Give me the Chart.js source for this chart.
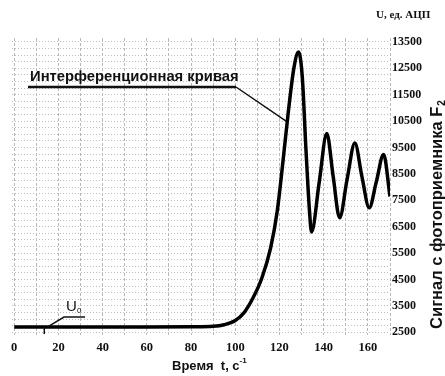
<!DOCTYPE html>
<html>
<head>
<meta charset="utf-8">
<script src="https://cdn.jsdelivr.net/npm/chart.js@4"></script>
<style>
  html, body { margin: 0; padding: 0; background: #fff; }
  #wrap { width: 445px; height: 376px; position: relative; }
</style>
</head>
<body>
<div id="wrap"><canvas id="signalChart"></canvas></div>
<script>
// Time, s
const times = [0, 20, 40, 60, 80, 90, 95, 100, 104, 108, 112, 116, 119, 122, 124, 126.5, 128.6, 130.3, 132, 133.5, 134.5,
  138, 141.4, 144.3, 147.2, 150.6, 154.1, 157.3, 160.6, 163.8, 167.1, 170];
// Photodetector F2 signal, ADC units
const signal = [2700, 2700, 2700, 2700, 2710, 2730, 2790, 2950, 3250, 3800, 4550, 5700, 7100, 9300, 10850, 12500, 13120, 12200, 9400, 7200, 6300,
  8200, 10030, 8400, 6840, 8300, 9670, 8400, 7220, 8200, 9240, 7650];

const xTickLabels = [0, 20, 40, 60, 80, 100, 120, 140, 160];
const yTickLabels = [2500, 3500, 4500, 5500, 6500, 7500, 8500, 9500, 10500, 11500, 12500, 13500];

const curveLabel = 'Интерференционная кривая';
const baseLabel = 'U';
const unitLabel = 'U, ед. АЦП';
const xTitle = 'Время  t, с';
const yTitle = 'Сигнал с фотоприемника F';

// Text and leader lines drawn on top of the chart
const labelsPlugin = {
  id: 'labels',
  afterDraw(chart) {
    const { ctx, scales: { x, y } } = chart;
    ctx.save();
    ctx.fillStyle = '#111';
    ctx.strokeStyle = '#111';
    ctx.textBaseline = 'middle';
    ctx.textAlign = 'left';

    // unit caption above the right axis
    ctx.font = 'bold 11px "Liberation Serif"';
    ctx.fillText(unitLabel, 376, 15);

    // x axis title with superscript
    ctx.font = 'bold 13px "Liberation Sans"';
    const xw = ctx.measureText(xTitle).width;
    ctx.fillText(xTitle, 172, 366);
    ctx.font = 'bold 8px "Liberation Sans"';
    ctx.fillText('-1', 172 + xw, 361);

    // right axis title, rotated, with subscript
    ctx.save();
    ctx.translate(437, 215);
    ctx.rotate(-Math.PI / 2);
    ctx.font = 'bold 16.5px "Liberation Sans"';
    const yw = ctx.measureText(yTitle).width;
    ctx.font = 'bold 10px "Liberation Sans"';
    const sw = ctx.measureText('2').width;
    const start = -(yw + sw) / 2;
    ctx.font = 'bold 16.5px "Liberation Sans"';
    ctx.fillText(yTitle, start, 0);
    ctx.font = 'bold 10px "Liberation Sans"';
    ctx.fillText('2', start + yw + 1, 5);
    ctx.restore();

    // curve annotation
    ctx.font = 'bold 14.8px "Liberation Sans"';
    ctx.fillText(curveLabel, 30, 77);
    const px = x.getPixelForValue(123), py = y.getPixelForValue(10500);
    ctx.lineWidth = 2.5;
    ctx.beginPath();
    ctx.moveTo(28, 87);
    ctx.lineTo(236, 87);
    ctx.stroke();
    ctx.lineWidth = 1.5;
    ctx.beginPath();
    ctx.moveTo(236, 87);
    ctx.lineTo(px, py);
    ctx.stroke();

    // U0 annotation
    const bx = x.getPixelForValue(13.6), by = y.getPixelForValue(2700);
    ctx.font = '15px "Liberation Sans"';
    ctx.fillText(baseLabel, 66, 307);
    ctx.font = '8px "Liberation Sans"';
    ctx.fillText('0', 77, 311);
    ctx.lineWidth = 1.5;
    ctx.beginPath();
    ctx.moveTo(85, 317);
    ctx.lineTo(64, 317);
    ctx.lineTo(bx + 3, by);
    ctx.stroke();
    ctx.beginPath();
    ctx.moveTo(bx, by);
    ctx.lineTo(bx, by + 7);
    ctx.stroke();
    ctx.restore();
  }
};

new Chart(document.getElementById('signalChart'), {
  type: 'line',
  data: {
    datasets: [{
      data: times.map((t, i) => ({ x: t, y: signal[i] })),
      borderColor: '#000',
      borderWidth: 3.5,
      pointRadius: 0,
      cubicInterpolationMode: 'monotone',
      fill: false
    }]
  },
  options: {
    responsive: true,
    maintainAspectRatio: false,
    animation: false,
    layout: { padding: { left: 12, top: 38, right: 0, bottom: 0 } },
    plugins: { legend: { display: false }, tooltip: { enabled: false } },
    scales: {
      x: {
        type: 'linear',
        min: -1,
        max: 170,
        border: { display: false, dash: [3, 2] },
        grid: { color: '#b8b8b8', lineWidth: 1, drawTicks: false },
        ticks: {
          stepSize: 10,
          includeBounds: false,
          autoSkip: false,
          maxRotation: 0,
          padding: 5,
          color: '#111',
          font: { family: 'Liberation Serif', weight: 'bold', size: 12.5 },
          callback: v => xTickLabels.includes(v) ? String(v) : ''
        },
        afterFit: s => { s.height = 41; }
      },
      y: {
        position: 'right',
        min: 2400,
        max: 13650,
        border: { display: false, dash: [1, 2] },
        grid: { color: '#bdbdbd', lineWidth: 1, drawTicks: false },
        ticks: {
          autoSkip: false,
          padding: 2,
          color: '#111',
          font: { family: 'Liberation Serif', weight: 'bold', size: 12 },
          callback: v => yTickLabels.includes(v) ? String(v) : ''
        },
        // grid every 250 units, starting at the first labelled value
        afterBuildTicks: s => {
          const ticks = [];
          for (let v = yTickLabels[0]; v <= s.max; v += 250) ticks.push({ value: v });
          s.ticks = ticks;
        },
        afterFit: s => { s.width = 55; }
      }
    }
  },
  plugins: [labelsPlugin]
});
</script>
</body>
</html>
